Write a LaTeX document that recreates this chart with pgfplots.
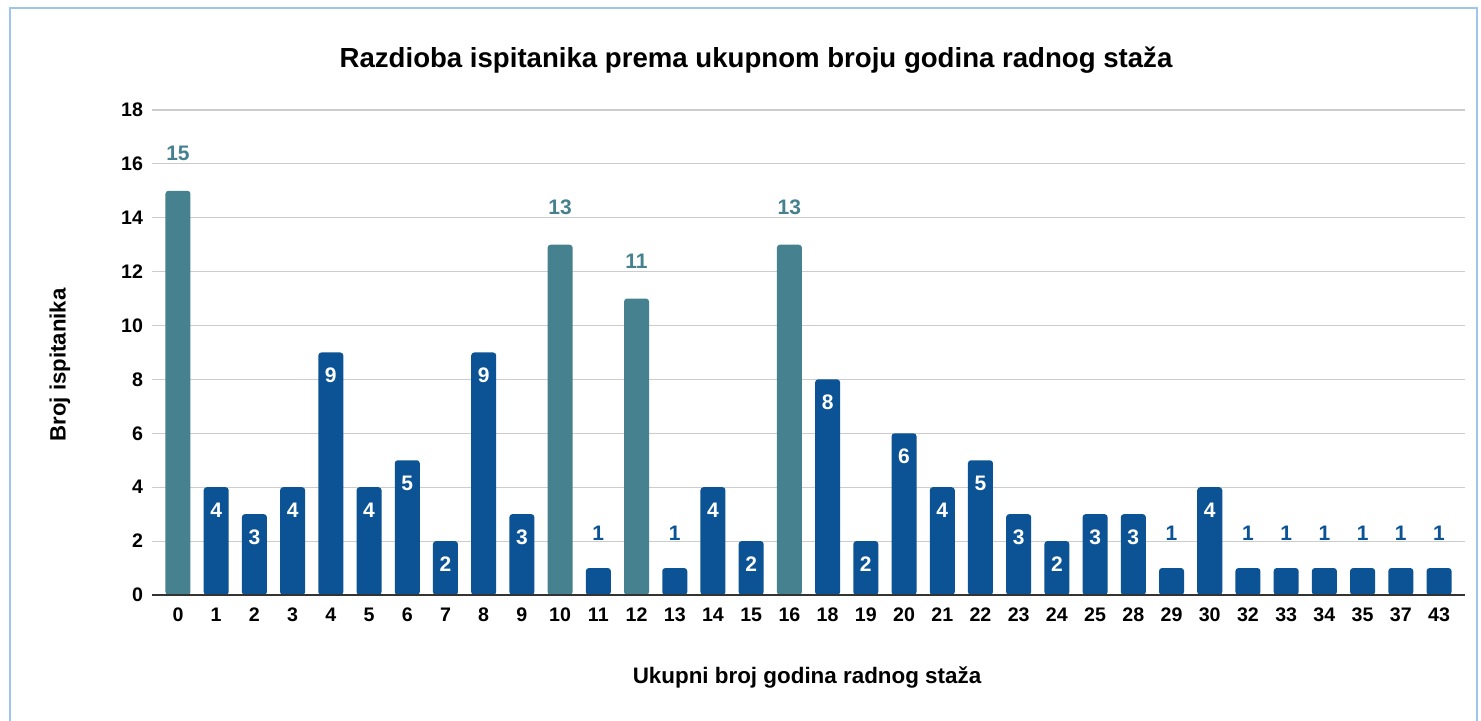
\documentclass[border=0pt]{standalone}
\usepackage{pgfplots}
\pgfplotsset{compat=1.18}
\usepackage{fontspec}
\setmainfont{Liberation Sans}
\definecolor{teal1}{HTML}{45818E}
\definecolor{blue1}{HTML}{0B5394}
\definecolor{gridc}{HTML}{CCCCCC}
\definecolor{framec}{HTML}{9FC5E8}
\begin{document}
\begin{tikzpicture}[x=1pt,y=1pt]
\useasboundingbox (-76,-63) rectangle (664.5,297.5);
\draw[framec, line width=0.6pt] (-71,293.5) rectangle (662.5,-70);
\begin{axis}[
  at={(0,0)}, anchor=south west,
  scale only axis, width=656.5pt, height=242.5pt,
  xmin=-0.68, xmax=33.68, ymin=0, ymax=18,
  ytick={0,2,...,18},
  xtick={0,...,33},
  xticklabels={0,1,2,3,4,5,6,7,8,9,10,11,12,13,14,15,16,18,19,20,21,22,23,24,25,28,29,30,32,33,34,35,37,43},
  ymajorgrids, grid style={gridc, line width=0.6pt},
  axis line style={draw=none},
  axis x line*=bottom, axis y line*=left,
  major tick length=0pt,
  tick label style={font=\bfseries\fontsize{9.8}{11}\selectfont, black},
  /pgf/number format/assume math mode=true,
  yticklabel style={xshift=-1pt},
  xticklabel style={yshift=-3pt},
  ybar, bar width=12.5pt, bar shift=0pt,
  clip=false,
]
\addplot[fill=teal1, draw=none, rounded corners=1.5pt,
  nodes near coords, every node near coord/.append style={font=\bfseries\fontsize{10.5}{12}\selectfont, text=teal1, anchor=center, yshift=18.5pt}]
  coordinates {(0,15) (10,13) (12,11) (16,13)};
\addplot[fill=blue1, draw=none, rounded corners=1.5pt,
  nodes near coords, every node near coord/.append style={font=\bfseries\fontsize{10.5}{12}\selectfont, text=white, anchor=center, yshift=-11.5pt}]
  coordinates {(1,4) (2,3) (3,4) (4,9) (5,4) (6,5) (7,2) (8,9) (9,3) (14,4) (15,2) (17,8) (18,2) (19,6) (20,4) (21,5) (22,3) (23,2) (24,3) (25,3) (27,4)};
\addplot[fill=blue1, draw=none, rounded corners=1.5pt,
  nodes near coords, every node near coord/.append style={font=\bfseries\fontsize{10.5}{12}\selectfont, text=blue1, anchor=center, yshift=17.5pt}]
  coordinates {(11,1) (13,1) (26,1) (28,1) (29,1) (30,1) (31,1) (32,1) (33,1)};
\draw[black!80, line width=0.7pt] (axis cs:-0.68,0) -- (axis cs:33.68,0);
\end{axis}
\node[font=\bfseries\fontsize{13.8}{16}\selectfont] at (302,267.5) {Razdioba ispitanika prema ukupnom broju godina radnog staža};
\node[font=\bfseries\fontsize{11.2}{13}\selectfont] at (327.5,-41.5) {Ukupni broj godina radnog staža};
\node[font=\bfseries\fontsize{11.1}{13}\selectfont, rotate=90] at (-46,115) {Broj ispitanika};
\end{tikzpicture}
\end{document}
